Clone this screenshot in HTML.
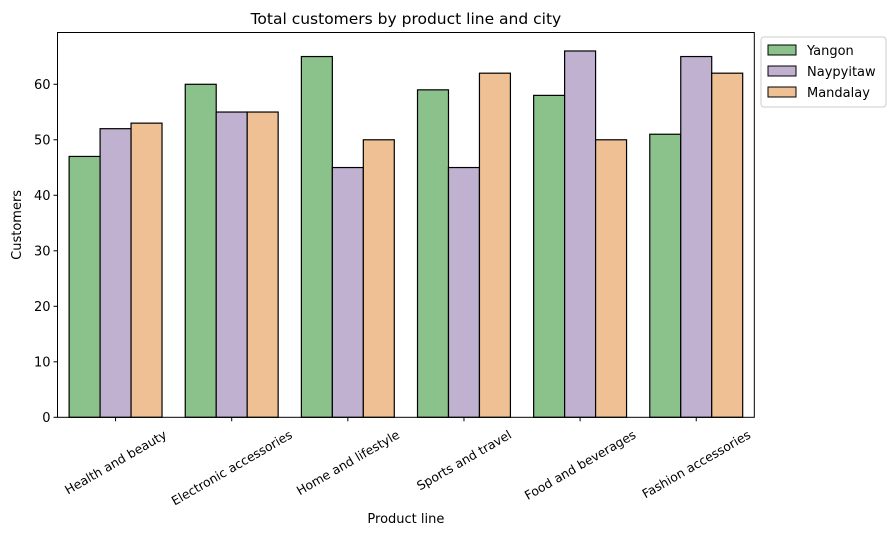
<!DOCTYPE html>
<html><head><meta charset="utf-8"><style>
body{margin:0;background:#fff;font-family:"Liberation Sans","DejaVu Sans",sans-serif;}
text{font-family:"DejaVu Sans","Liberation Sans",sans-serif;}
</style></head><body>
<svg id="chart" width="895" height="537" xmlns="http://www.w3.org/2000/svg"></svg>
<script>
const categories=["Health and beauty","Electronic accessories","Home and lifestyle","Sports and travel","Food and beverages","Fashion accessories"];
const seriesNames=["Yangon","Naypyitaw","Mandalay"];
const yangon=[47,60,65,59,58,51];
const naypyitaw=[52,55,45,45,66,65];
const mandalay=[53,55,50,62,50,62];
const yTicks=[0,10,20,30,40,50,60];
const colors=["#8bc18b","#c0b1d0","#eec093"];
const series=[yangon,naypyitaw,mandalay];
const L=57.5,R=754.3,T=32.5,B=417.3,yMax=69.33;
const svg=document.getElementById('chart');
const NS="http://www.w3.org/2000/svg";
function el(t,a,p){const e=document.createElementNS(NS,t);for(const k in a)e.setAttribute(k,a[k]);(p||svg).appendChild(e);return e;}
const y=v=>B-(v/yMax)*(B-T);
const band=(R-L)/categories.length;
const xc=i=>L+band*(i+0.5);
const bw=band*0.8/3;
series.forEach((s,si)=>{s.forEach((v,i)=>{
 const r=el('rect',{x:xc(i)-band*0.4+si*bw,y:y(v),width:bw,height:B-y(v),fill:colors[si],stroke:'#000','stroke-width':1.2});
 
 
});});
el('rect',{x:L,y:T,width:R-L,height:B-T,fill:'none',stroke:'#000','stroke-width':1,});
yTicks.forEach(t=>{
 const l=el('line',{x1:L-4,x2:L,y1:y(t),y2:y(t),stroke:'#000'});
 
 const tx=el('text',{x:L-7,y:y(t)+4.5,'text-anchor':'end','font-size':13});tx.textContent=t;
 
});
categories.forEach((c,i)=>{
 const l=el('line',{x1:xc(i),x2:xc(i),y1:B,y2:B+4,stroke:'#000'});
 
 const tx=el('text',{x:0,y:0,'text-anchor':'middle','font-size':12.4});tx.textContent=c;
 
 const w=tx.getComputedTextLength();
 const h=w*0.5+14*0.866;
 const cy=B+10+h/2;
 tx.setAttribute('transform',`translate(${xc(i)} ${cy}) rotate(-30)`);
 tx.setAttribute('y',4.5);
});
const tt=el('text',{x:(L+R)/2,y:24,'text-anchor':'middle','font-size':15.5,});tt.textContent="Total customers by product line and city";
const xt=el('text',{x:(L+R)/2,y:523,'text-anchor':'middle','font-size':13,});xt.textContent="Product line";
const yt=el('text',{x:21,y:(T+B)/2,'text-anchor':'middle','font-size':13,transform:`rotate(-90 21 ${(T+B)/2})`,});yt.textContent="Customers";
const lg=el('g',{});
el('rect',{x:761,y:37,width:125,height:70,rx:3,fill:'#fff',stroke:'#ccc'},lg);
seriesNames.forEach((n,i)=>{
 const r=el('rect',{x:768,y:45+i*21,width:28,height:10,fill:colors[i],stroke:'#000'},lg);
 
 const t=el('text',{x:807,y:55+i*21,'font-size':13},lg);t.textContent=n;
 
});
</script>
</body></html>
